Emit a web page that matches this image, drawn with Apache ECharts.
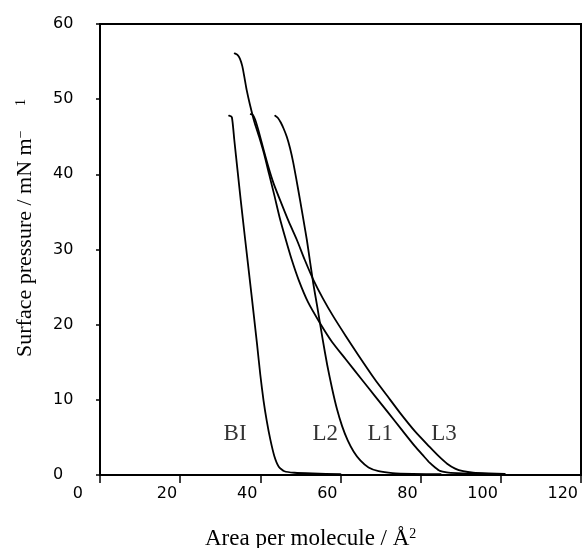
<!DOCTYPE html>
<html><head><meta charset="utf-8">
<script src="https://cdn.jsdelivr.net/npm/echarts@6/dist/echarts.min.js"></script>
<style>html,body{margin:0;padding:0;background:#fff}#c{width:587px;height:548px}</style>
</head><body><div id="c"></div>
<script>
// Axis ticks
const xTicks = [0, 20, 40, 60, 80, 100, 120];
const yTicks = [0, 10, 20, 30, 40, 50, 60];

// Isotherms: [area per molecule (Å²), surface pressure (mN/m)]
const curveBI = [[32.2,47.8],[32.9,47.6],[33.5,44.6],[34.3,40.6],[35.1,36.6],[36.2,31.4],[37.3,26.3],[38.3,21.6],[39.2,17.3],[40.0,13.3],[40.8,9.9],[41.6,7.2],[42.5,4.7],[43.5,2.5],[44.6,1.1],[46.0,0.5],[48.5,0.3],[53,0.2],[60,0.12]];
const curveL2 = [[43.7,47.8],[44.4,47.5],[45.1,46.9],[45.8,46.1],[46.6,45.0],[47.4,43.5],[48.2,41.6],[49.0,39.3],[49.9,36.6],[50.8,33.8],[51.6,31.3],[52.4,28.4],[53.2,25.5],[54.2,22.4],[55.5,18.2],[56.7,14.6],[57.9,11.5],[59.1,8.8],[60.4,6.5],[61.8,4.6],[63.3,3.1],[65.0,1.9],[67.0,1.0],[69.5,0.5],[73,0.25],[78,0.15],[85,0.1]];
const curveL1 = [[33.6,56.1],[34.3,55.9],[34.9,55.4],[35.5,54.4],[36.0,53.0],[36.6,51.2],[37.4,49.3],[38.5,47.0],[39.7,45.0],[40.9,42.8],[42.2,40.0],[43.5,37.2],[44.8,34.3],[46.2,31.6],[47.8,28.7],[49.6,25.9],[51.9,23.0],[54.9,20.2],[57.9,17.7],[61.3,15.4],[65.3,12.7],[68.6,10.5],[71.9,8.3],[75.3,6.0],[78.6,3.8],[80.6,2.6],[82.3,1.6],[83.6,1.0],[84.8,0.55],[86.5,0.35],[89,0.25],[93,0.18],[96,0.15]];
const curveL3 = [[37.6,48.0],[38.1,47.9],[38.7,47.3],[39.5,45.9],[40.8,43.3],[42.0,41.0],[43.3,38.8],[45.2,36.2],[47.1,33.7],[49.1,31.3],[51.1,28.6],[53.2,26.0],[55.6,23.5],[58.2,21.1],[61.3,18.5],[64.5,15.9],[68.6,12.7],[71.7,10.5],[74.8,8.3],[78.6,5.8],[82.3,3.7],[84.5,2.5],[86.6,1.5],[88.6,0.85],[90.6,0.5],[93.1,0.3],[97,0.2],[101,0.15]];

// Curve labels
const curveNames = ['BI', 'L2', 'L1', 'L3'];
const labelX = [33.7, 56.2, 69.9, 85.8];
const labelY = [5.4, 5.4, 5.4, 5.4];

const serif = 'Liberation Serif';
const sans = 'DejaVu Sans';

const chart = echarts.init(document.getElementById('c'), null, {renderer: 'canvas'});

function lineSeries(name, data) {
  return {
    name, type: 'line', data, showSymbol: false, smooth: 0.2, silent: true,
    lineStyle: {color: '#000', width: 1.8, cap: 'round', join: 'round'},
    z: 3
  };
}

chart.setOption({
  animation: false,
  backgroundColor: '#fff',
  grid: {left: 100, right: 6, top: 24, bottom: 73, show: true, borderColor: '#000', borderWidth: 2, backgroundColor: 'transparent'},
  xAxis: {
    type: 'value', min: xTicks[0], max: xTicks[xTicks.length - 1], interval: xTicks[1] - xTicks[0],
    splitLine: {show: false},
    axisLine: {show: true, onZero: false, lineStyle: {color: '#000', width: 2}},
    axisTick: {show: true, length: 8, lineStyle: {color: '#000', width: 1.5}},
    axisLabel: {
      color: '#000', fontFamily: sans, fontSize: 16, align: 'right', margin: 11,
      padding: [0, 3, 0, 0],
      formatter: v => v === 0 ? '{z|0}' : String(v),
      rich: {z: {padding: [0, 14, 0, 0], fontFamily: sans, fontSize: 16, color: '#000'}}
    }
  },
  yAxis: {
    type: 'value', min: yTicks[0], max: yTicks[yTicks.length - 1], interval: yTicks[1] - yTicks[0],
    splitLine: {show: false},
    axisLine: {show: true, onZero: false, lineStyle: {color: '#000', width: 2}},
    axisTick: {show: true, length: 4, lineStyle: {color: '#000', width: 1.5}},
    axisLabel: {color: '#000', fontFamily: sans, fontSize: 16, align: 'left', margin: 47, padding: [0, 0, 3, 0]}
  },
  graphic: [
    {
      type: 'text', x: 205, y: 539, z: 10,
      style: {
        text: 'Area per molecule / Å{sup|2}',
        fontFamily: serif, fontSize: 23, fill: '#000', align: 'left', verticalAlign: 'middle',
        rich: {sup: {fontFamily: serif, fontSize: 14, verticalAlign: 'top', fill: '#000'}}
      }
    },
    {
      type: 'text', x: 25, y: 357, rotation: Math.PI / 2, z: 10,
      style: {
        text: 'Surface pressure / mN m{sup|−       1}',
        fontFamily: serif, fontSize: 22, fill: '#000', align: 'left', verticalAlign: 'middle',
        rich: {sup: {fontFamily: serif, fontSize: 14, verticalAlign: 'top', fill: '#000'}}
      }
    }
  ],
  series: [
    lineSeries('BI', curveBI),
    lineSeries('L2', curveL2),
    lineSeries('L1', curveL1),
    lineSeries('L3', curveL3),
    {
      type: 'scatter', symbolSize: 0, silent: true, z: 4,
      data: curveNames.map((n, i) => ({value: [labelX[i], labelY[i]], name: n})),
      label: {show: true, position: 'inside', formatter: p => p.name, fontFamily: serif, fontSize: 23, color: '#000'}
    }
  ]
});
</script>
</body></html>
